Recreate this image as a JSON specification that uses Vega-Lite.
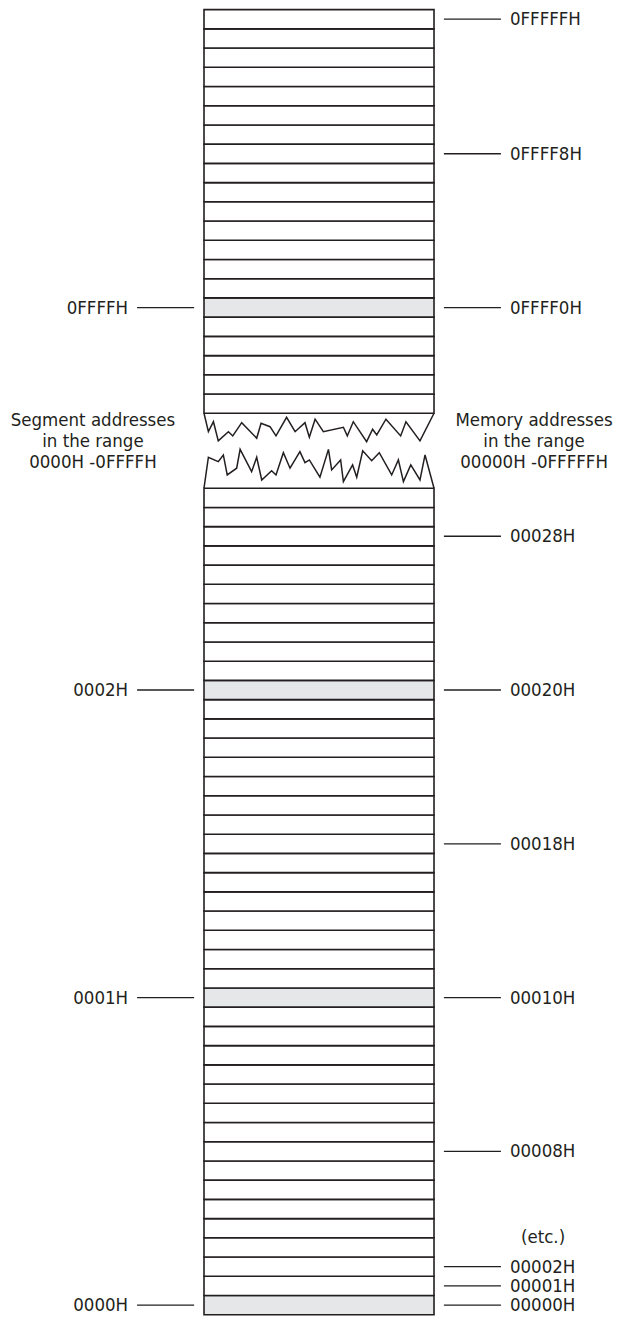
{
  "$schema": "https://vega.github.io/schema/vega-lite/v6.json",
  "autosize": {"type": "fit", "contains": "padding"},
  "width": 619,
  "height": 1321,
  "padding": 0,
  "background": "#ffffff",
  "config": {"view": {"stroke": null}, "text": {"font": "DejaVu Sans Condensed", "fontSize": 18.5, "color": "#231f20"}},
  "datasets": {
    "cells": [
      {"block": "bottom", "slot0": 0, "slot1": 1, "shaded": true},
      {"block": "bottom", "slot0": 1, "slot1": 2, "shaded": false},
      {"block": "bottom", "slot0": 2, "slot1": 3, "shaded": false},
      {"block": "bottom", "slot0": 3, "slot1": 4, "shaded": false},
      {"block": "bottom", "slot0": 4, "slot1": 5, "shaded": false},
      {"block": "bottom", "slot0": 5, "slot1": 6, "shaded": false},
      {"block": "bottom", "slot0": 6, "slot1": 7, "shaded": false},
      {"block": "bottom", "slot0": 7, "slot1": 8, "shaded": false},
      {"block": "bottom", "slot0": 8, "slot1": 9, "shaded": false},
      {"block": "bottom", "slot0": 9, "slot1": 10, "shaded": false},
      {"block": "bottom", "slot0": 10, "slot1": 11, "shaded": false},
      {"block": "bottom", "slot0": 11, "slot1": 12, "shaded": false},
      {"block": "bottom", "slot0": 12, "slot1": 13, "shaded": false},
      {"block": "bottom", "slot0": 13, "slot1": 14, "shaded": false},
      {"block": "bottom", "slot0": 14, "slot1": 15, "shaded": false},
      {"block": "bottom", "slot0": 15, "slot1": 16, "shaded": false},
      {"block": "bottom", "slot0": 16, "slot1": 17, "shaded": true},
      {"block": "bottom", "slot0": 17, "slot1": 18, "shaded": false},
      {"block": "bottom", "slot0": 18, "slot1": 19, "shaded": false},
      {"block": "bottom", "slot0": 19, "slot1": 20, "shaded": false},
      {"block": "bottom", "slot0": 20, "slot1": 21, "shaded": false},
      {"block": "bottom", "slot0": 21, "slot1": 22, "shaded": false},
      {"block": "bottom", "slot0": 22, "slot1": 23, "shaded": false},
      {"block": "bottom", "slot0": 23, "slot1": 24, "shaded": false},
      {"block": "bottom", "slot0": 24, "slot1": 25, "shaded": false},
      {"block": "bottom", "slot0": 25, "slot1": 26, "shaded": false},
      {"block": "bottom", "slot0": 26, "slot1": 27, "shaded": false},
      {"block": "bottom", "slot0": 27, "slot1": 28, "shaded": false},
      {"block": "bottom", "slot0": 28, "slot1": 29, "shaded": false},
      {"block": "bottom", "slot0": 29, "slot1": 30, "shaded": false},
      {"block": "bottom", "slot0": 30, "slot1": 31, "shaded": false},
      {"block": "bottom", "slot0": 31, "slot1": 32, "shaded": false},
      {"block": "bottom", "slot0": 32, "slot1": 33, "shaded": true},
      {"block": "bottom", "slot0": 33, "slot1": 34, "shaded": false},
      {"block": "bottom", "slot0": 34, "slot1": 35, "shaded": false},
      {"block": "bottom", "slot0": 35, "slot1": 36, "shaded": false},
      {"block": "bottom", "slot0": 36, "slot1": 37, "shaded": false},
      {"block": "bottom", "slot0": 37, "slot1": 38, "shaded": false},
      {"block": "bottom", "slot0": 38, "slot1": 39, "shaded": false},
      {"block": "bottom", "slot0": 39, "slot1": 40, "shaded": false},
      {"block": "bottom", "slot0": 40, "slot1": 41, "shaded": false},
      {"block": "bottom", "slot0": 41, "slot1": 42, "shaded": false},
      {"block": "bottom", "slot0": 42, "slot1": 43, "shaded": false},
      {"block": "top", "slot0": 46.9, "slot1": 47.9, "shaded": false},
      {"block": "top", "slot0": 47.9, "slot1": 48.9, "shaded": false},
      {"block": "top", "slot0": 48.9, "slot1": 49.9, "shaded": false},
      {"block": "top", "slot0": 49.9, "slot1": 50.9, "shaded": false},
      {"block": "top", "slot0": 50.9, "slot1": 51.9, "shaded": false},
      {"block": "top", "slot0": 51.9, "slot1": 52.9, "shaded": true},
      {"block": "top", "slot0": 52.9, "slot1": 53.9, "shaded": false},
      {"block": "top", "slot0": 53.9, "slot1": 54.9, "shaded": false},
      {"block": "top", "slot0": 54.9, "slot1": 55.9, "shaded": false},
      {"block": "top", "slot0": 55.9, "slot1": 56.9, "shaded": false},
      {"block": "top", "slot0": 56.9, "slot1": 57.9, "shaded": false},
      {"block": "top", "slot0": 57.9, "slot1": 58.9, "shaded": false},
      {"block": "top", "slot0": 58.9, "slot1": 59.9, "shaded": false},
      {"block": "top", "slot0": 59.9, "slot1": 60.9, "shaded": false},
      {"block": "top", "slot0": 60.9, "slot1": 61.9, "shaded": false},
      {"block": "top", "slot0": 61.9, "slot1": 62.9, "shaded": false},
      {"block": "top", "slot0": 62.9, "slot1": 63.9, "shaded": false},
      {"block": "top", "slot0": 63.9, "slot1": 64.9, "shaded": false},
      {"block": "top", "slot0": 64.9, "slot1": 65.9, "shaded": false},
      {"block": "top", "slot0": 65.9, "slot1": 66.9, "shaded": false},
      {"block": "top", "slot0": 66.9, "slot1": 67.9, "shaded": false}
    ],
    "labels": [
      {"side": "right", "slot": 67.4, "label": "0FFFFFH"},
      {"side": "right", "slot": 60.4, "label": "0FFFF8H"},
      {"side": "right", "slot": 52.4, "label": "0FFFF0H"},
      {"side": "right", "slot": 40.5, "label": "00028H"},
      {"side": "right", "slot": 32.5, "label": "00020H"},
      {"side": "right", "slot": 24.5, "label": "00018H"},
      {"side": "right", "slot": 16.5, "label": "00010H"},
      {"side": "right", "slot": 8.5, "label": "00008H"},
      {"side": "right", "slot": 2.5, "label": "00002H"},
      {"side": "right", "slot": 1.5, "label": "00001H"},
      {"side": "right", "slot": 0.5, "label": "00000H"},
      {"side": "left", "slot": 52.4, "label": "0FFFFH"},
      {"side": "left", "slot": 32.5, "label": "0002H"},
      {"side": "left", "slot": 16.5, "label": "0001H"},
      {"side": "left", "slot": 0.5, "label": "0000H"}
    ],
    "notes": [
      {"side": "left", "slot": 46.55, "text": ["Segment addresses", "in the range", "0000H -0FFFFH"]},
      {"side": "right", "slot": 46.55, "text": ["Memory addresses", "in the range", "00000H -0FFFFFH"]},
      {"side": "etc", "slot": 4.05, "text": "(etc.)"}
    ],
    "zig": [
      {"edge": "top", "i": 0, "u": 0, "s": 46.9},
      {"edge": "top", "i": 1, "u": 0.19, "s": 45.94},
      {"edge": "top", "i": 2, "u": 0.41, "s": 46.46},
      {"edge": "top", "i": 3, "u": 0.62, "s": 45.46},
      {"edge": "top", "i": 4, "u": 1.06, "s": 45.94},
      {"edge": "top", "i": 5, "u": 1.25, "s": 45.72},
      {"edge": "top", "i": 6, "u": 1.64, "s": 46.41},
      {"edge": "top", "i": 7, "u": 2.29, "s": 45.6},
      {"edge": "top", "i": 8, "u": 2.48, "s": 46.38},
      {"edge": "top", "i": 9, "u": 2.87, "s": 46.2},
      {"edge": "top", "i": 10, "u": 3.13, "s": 45.72},
      {"edge": "top", "i": 11, "u": 3.59, "s": 46.69},
      {"edge": "top", "i": 12, "u": 3.96, "s": 45.94},
      {"edge": "top", "i": 13, "u": 4.39, "s": 46.41},
      {"edge": "top", "i": 14, "u": 4.58, "s": 45.65},
      {"edge": "top", "i": 15, "u": 4.83, "s": 46.59},
      {"edge": "top", "i": 16, "u": 5.19, "s": 45.94},
      {"edge": "top", "i": 17, "u": 6.06, "s": 46.17},
      {"edge": "top", "i": 18, "u": 6.23, "s": 45.72},
      {"edge": "top", "i": 19, "u": 6.49, "s": 46.46},
      {"edge": "top", "i": 20, "u": 7.07, "s": 45.42},
      {"edge": "top", "i": 21, "u": 7.33, "s": 46.07},
      {"edge": "top", "i": 22, "u": 7.51, "s": 45.77},
      {"edge": "top", "i": 23, "u": 7.91, "s": 46.59},
      {"edge": "top", "i": 24, "u": 8.55, "s": 45.72},
      {"edge": "top", "i": 25, "u": 8.78, "s": 46.46},
      {"edge": "top", "i": 26, "u": 9.39, "s": 45.46},
      {"edge": "top", "i": 27, "u": 10, "s": 46.9},
      {"edge": "bottom", "i": 0, "u": 0, "s": 43},
      {"edge": "bottom", "i": 1, "u": 0.19, "s": 44.61},
      {"edge": "bottom", "i": 2, "u": 0.62, "s": 44.38},
      {"edge": "bottom", "i": 3, "u": 0.84, "s": 44.73},
      {"edge": "bottom", "i": 4, "u": 1.01, "s": 43.69},
      {"edge": "bottom", "i": 5, "u": 1.42, "s": 44.04},
      {"edge": "bottom", "i": 6, "u": 1.57, "s": 45.02},
      {"edge": "bottom", "i": 7, "u": 2.07, "s": 43.86},
      {"edge": "bottom", "i": 8, "u": 2.29, "s": 44.61},
      {"edge": "bottom", "i": 9, "u": 2.51, "s": 43.43},
      {"edge": "bottom", "i": 10, "u": 2.94, "s": 43.91},
      {"edge": "bottom", "i": 11, "u": 3.13, "s": 43.69},
      {"edge": "bottom", "i": 12, "u": 3.45, "s": 44.85},
      {"edge": "bottom", "i": 13, "u": 3.74, "s": 44.04},
      {"edge": "bottom", "i": 14, "u": 4.17, "s": 44.9},
      {"edge": "bottom", "i": 15, "u": 4.39, "s": 44.33},
      {"edge": "bottom", "i": 16, "u": 4.58, "s": 44.47},
      {"edge": "bottom", "i": 17, "u": 5.04, "s": 43.57},
      {"edge": "bottom", "i": 18, "u": 5.41, "s": 45.02},
      {"edge": "bottom", "i": 19, "u": 5.55, "s": 43.95},
      {"edge": "bottom", "i": 20, "u": 5.94, "s": 44.47},
      {"edge": "bottom", "i": 21, "u": 6.06, "s": 43.34},
      {"edge": "bottom", "i": 22, "u": 6.46, "s": 44.21},
      {"edge": "bottom", "i": 23, "u": 6.64, "s": 43.57},
      {"edge": "bottom", "i": 24, "u": 6.9, "s": 44.95},
      {"edge": "bottom", "i": 25, "u": 7.29, "s": 44.43},
      {"edge": "bottom", "i": 26, "u": 7.62, "s": 44.85},
      {"edge": "bottom", "i": 27, "u": 8.16, "s": 43.69},
      {"edge": "bottom", "i": 28, "u": 8.45, "s": 44.47},
      {"edge": "bottom", "i": 29, "u": 8.67, "s": 43.34},
      {"edge": "bottom", "i": 30, "u": 8.99, "s": 44.21},
      {"edge": "bottom", "i": 31, "u": 9.39, "s": 43.43},
      {"edge": "bottom", "i": 32, "u": 9.61, "s": 44.73},
      {"edge": "bottom", "i": 33, "u": 10, "s": 43}
    ]
  },
  "layer": [
    {
      "data": {"name": "cells"},
      "mark": {"type": "rect", "stroke": "#231f20", "strokeWidth": 1.6},
      "encoding": {
        "x": {"datum": 0, "type": "quantitative", "scale": {"domain": [-8.87, 18.043], "nice": false, "zero": false}, "axis": null},
        "x2": {"datum": 10},
        "y": {"field": "slot0", "type": "quantitative", "scale": {"domain": [-0.328, 68.4], "nice": false, "zero": false}, "axis": null},
        "y2": {"field": "slot1"},
        "fill": {"condition": {"test": "datum.shaded", "value": "#e6e7e8"}, "value": "#ffffff"}
      }
    },
    {
      "data": {"name": "zig"},
      "mark": {"type": "line", "color": "#231f20", "strokeWidth": 1.5, "strokeJoin": "miter"},
      "encoding": {
        "x": {"field": "u", "type": "quantitative"},
        "y": {"field": "s", "type": "quantitative"},
        "detail": {"field": "edge"},
        "order": {"field": "i", "type": "quantitative"}
      }
    },
    {
      "data": {"name": "labels"},
      "transform": [{"filter": "datum.side === 'right'"}],
      "mark": {"type": "rule", "color": "#231f20", "strokeWidth": 1.3},
      "encoding": {
        "x": {"datum": 10.43},
        "x2": {"datum": 12.91},
        "y": {"field": "slot", "type": "quantitative"}
      }
    },
    {
      "data": {"name": "labels"},
      "transform": [{"filter": "datum.side === 'left'"}],
      "mark": {"type": "rule", "color": "#231f20", "strokeWidth": 1.3},
      "encoding": {
        "x": {"datum": -2.91},
        "x2": {"datum": -0.43},
        "y": {"field": "slot", "type": "quantitative"}
      }
    },
    {
      "data": {"name": "labels"},
      "transform": [{"filter": "datum.side === 'right'"}],
      "mark": {"type": "text", "align": "left", "baseline": "middle"},
      "encoding": {
        "x": {"datum": 13.3},
        "y": {"field": "slot", "type": "quantitative"},
        "text": {"field": "label"}
      }
    },
    {
      "data": {"name": "labels"},
      "transform": [{"filter": "datum.side === 'left'"}],
      "mark": {"type": "text", "align": "right", "baseline": "middle"},
      "encoding": {
        "x": {"datum": -3.3},
        "y": {"field": "slot", "type": "quantitative"},
        "text": {"field": "label"}
      }
    },
    {
      "data": {"name": "notes"},
      "transform": [{"filter": "datum.side === 'left'"}],
      "mark": {"type": "text", "align": "center", "baseline": "middle", "lineHeight": 21},
      "encoding": {
        "x": {"datum": -4.83},
        "y": {"field": "slot", "type": "quantitative"},
        "text": {"field": "text"}
      }
    },
    {
      "data": {"name": "notes"},
      "transform": [{"filter": "datum.side === 'right'"}],
      "mark": {"type": "text", "align": "center", "baseline": "middle", "lineHeight": 21},
      "encoding": {
        "x": {"datum": 14.35},
        "y": {"field": "slot", "type": "quantitative"},
        "text": {"field": "text"}
      }
    },
    {
      "data": {"name": "notes"},
      "transform": [{"filter": "datum.side === 'etc'"}],
      "mark": {"type": "text", "align": "center", "baseline": "middle"},
      "encoding": {
        "x": {"datum": 14.74},
        "y": {"field": "slot", "type": "quantitative"},
        "text": {"field": "text"}
      }
    }
  ]
}
